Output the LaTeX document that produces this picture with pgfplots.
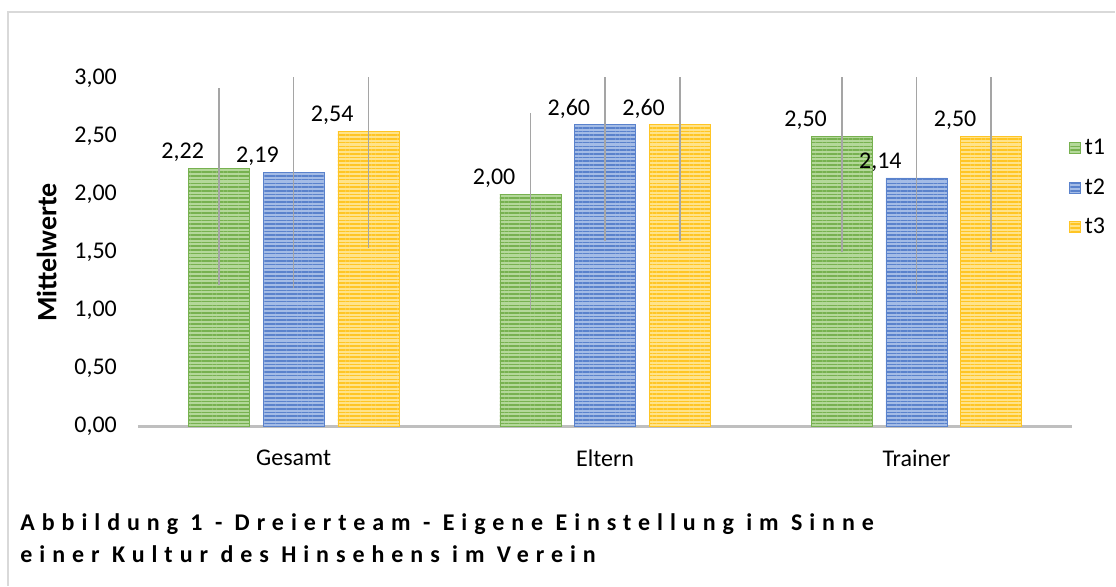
\documentclass[border=0pt]{standalone}
\usepackage{fontspec}
\setmainfont{Carlito}
\newfontfamily\capfont[LetterSpace=29]{Carlito}
\usepackage{pgfplots}
\pgfplotsset{compat=1.18}
\usetikzlibrary{patterns.meta}

\definecolor{gLight}{HTML}{B4D89A}
\definecolor{gDark}{HTML}{77B150}
\definecolor{bLight}{HTML}{A4BCE6}
\definecolor{bDark}{HTML}{5A82CC}
\definecolor{yLight}{HTML}{FFE38A}
\definecolor{yDark}{HTML}{FFC524}
\definecolor{errGray}{HTML}{A5A5A5}
\definecolor{axGray}{HTML}{BFBFBF}
\definecolor{frameGray}{HTML}{D9D9D9}

\tikzset{
  stripes/.style n args={2}{fill=#1, draw=#2, line width=0.3pt,
    postaction={pattern={Lines[angle=0,distance=1.85pt,line width=0.8pt]}, pattern color=#2}},
}

\begin{document}
\begin{tikzpicture}
\path (0,0) rectangle (558pt,-293pt);
\draw[frameGray, line width=0.8pt] (4pt,-293pt) -- (4pt,-6pt) -- (558pt,-6pt);

\begin{axis}[
    at={(69pt,-213.5pt)}, anchor=south west,
    scale only axis,
    width=467.5pt, height=174.5pt,
    xmin=-0.5, xmax=2.5,
    ymin=0, ymax=3,
    xtick={0,1,2},
    xticklabels={Gesamt, Eltern, Trainer},
    ytick={0,0.5,...,3},
    major tick length=0pt,
    axis x line*=bottom,
    axis y line*=left,
    y axis line style={draw=none},
    x axis line style={axGray, line width=1.5pt},
    tick label style={font=\fontsize{12}{14}\selectfont},
    xticklabel style={yshift=-8pt},
    yticklabel style={xshift=-7pt},
    /pgf/number format/.cd, fixed, fixed zerofill, precision=2, use comma, assume math mode=true,
    /pgfplots/.cd,
    ylabel={\bfseries Mittelwerte},
    ylabel style={font=\fontsize{14}{16}\selectfont, yshift=2pt},
    ybar, bar width=0.196,
    nodes near coords,
    every node near coord/.append style={font=\fontsize{12}{14}\selectfont, anchor=east, xshift=-4pt, yshift=8pt},
    error bars/y dir=both, error bars/y explicit,
    error bars/error mark=none,
    error bars/error bar style={errGray, line width=0.8pt},
    legend style={at={(0.99,0.685)}, anchor=west, draw=none, fill=none,
      font=\fontsize{12}{14}\selectfont, row sep=6.5pt,
      /tikz/every even column/.append style={column sep=2pt}},
    legend image code/.code={\path[#1] (0pt,-2.75pt) rectangle (5.5pt,2.75pt);},
]
\addplot[stripes={gLight}{gDark}, bar shift=-0.24] coordinates {
  (0,2.22) += (0,0.69) -= (0,1.00)
  (1,2.00) += (0,0.70) -= (0,1.00)
  (2,2.50) += (0,1.00) -= (0,1.00)
};
\addplot[stripes={bLight}{bDark}, bar shift=0] coordinates {
  (0,2.19) += (0,1.00) -= (0,1.00)
  (1,2.60) += (0,1.00) -= (0,1.00)
  (2,2.14) += (0,1.00) -= (0,1.00)
};
\addplot[stripes={yLight}{yDark}, bar shift=0.24] coordinates {
  (0,2.54) += (0,1.00) -= (0,1.00)
  (1,2.60) += (0,1.00) -= (0,1.00)
  (2,2.50) += (0,1.00) -= (0,1.00)
};
\legend{t1, t2, t3}
\end{axis}

\node[anchor=west, inner sep=0pt] at (10pt,-262pt)
  {\capfont\bfseries\fontsize{12}{14}\selectfont Abbildung 1 - Dreierteam - Eigene Einstellung im Sinne};
\node[anchor=west, inner sep=0pt] at (10pt,-277.5pt)
  {\capfont\bfseries\fontsize{12}{14}\selectfont einer Kultur des Hinsehens im Verein};
\end{tikzpicture}
\end{document}
